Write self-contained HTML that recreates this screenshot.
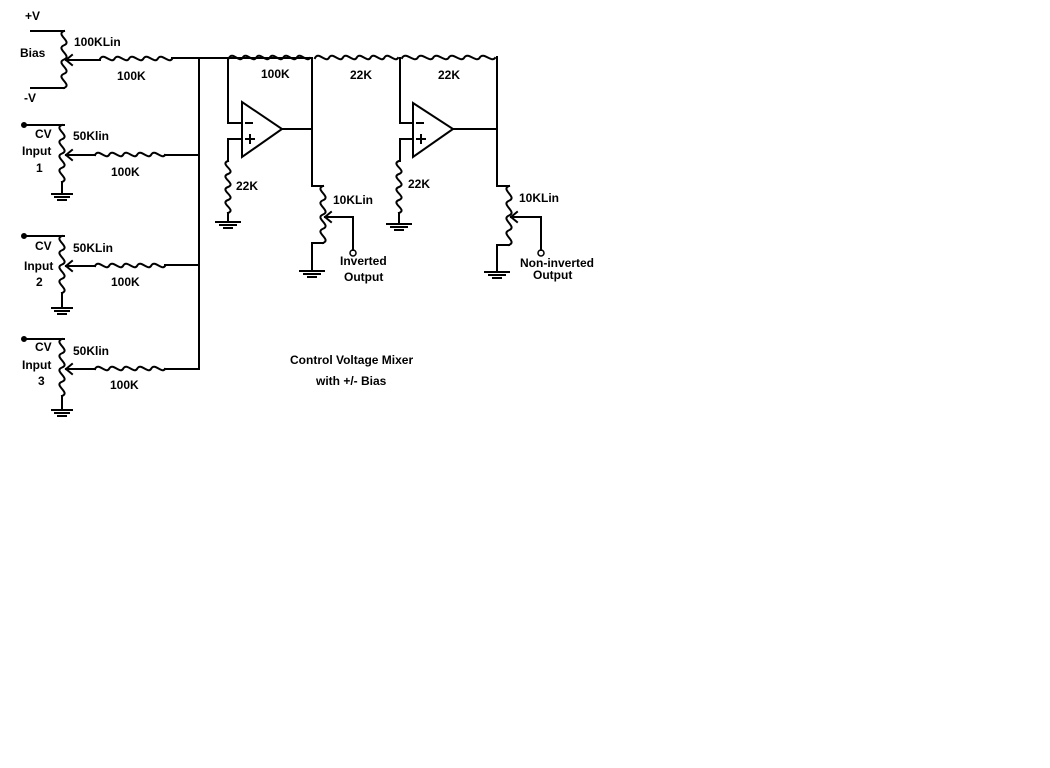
<!DOCTYPE html>
<html><head><meta charset="utf-8"><style>
html,body{margin:0;padding:0;background:#fff;}
svg{display:block;}
text{font-family:"Liberation Sans",sans-serif;font-weight:bold;font-size:12px;fill:#000;}
</style></head><body>
<svg id="s" width="1050" height="768" viewBox="0 0 1050 768" xmlns="http://www.w3.org/2000/svg">
<g id="w" stroke="#000" stroke-width="2" fill="none" stroke-linecap="square">
<polyline points="31,31 64,31"/><polyline points="31,88 64,88"/>
<polyline points="66,60 100,60"/><polyline points="172,58 312,58"/>
<path d="M66,60 L72,55 M66,60 L72,65"/>
<polyline points="199,58 199,369"/>
<polyline points="24,125 64,125"/><path d="M66,155 L72,150 M66,155 L72,160"/>
<polyline points="66,155 95,155"/><polyline points="165,155 199,155"/>
<polyline points="62,182 62,193"/><polyline points="52,194 72,194"/><polyline points="55,197 69,197"/><polyline points="58,200 66,200"/>
<polyline points="24,236 64,236"/><path d="M66,266 L72,261 M66,266 L72,271"/>
<polyline points="66,266 95,266"/><polyline points="165,265 199,265"/>
<polyline points="62,293 62,307"/><polyline points="52,308 72,308"/><polyline points="55,311 69,311"/><polyline points="58,314 66,314"/>
<polyline points="24,339 64,339"/><path d="M66,369 L72,364 M66,369 L72,374"/>
<polyline points="66,369 95,369"/><polyline points="165,369 199,369"/>
<polyline points="62,396 62,409"/><polyline points="52,410 72,410"/><polyline points="55,413 69,413"/><polyline points="58,416 66,416"/>
<polyline points="228,58 228,123 242,123"/>
<polyline points="242,139 228,139 228,161"/>
<polygon points="242,102 242,157 282,129"/>
<path d="M246,123 L252,123 M246,139 L254,139 M250,135 L250,143"/>
<polyline points="282,129 312,129"/>
<polyline points="312,58 312,186 323,186"/>
<polyline points="228,213 228,222"/><polyline points="216,222 240,222"/><polyline points="220,225 236,225"/><polyline points="224,228 232,228"/>
<polyline points="323,243 312,243 312,271"/><polyline points="300,271 324,271"/><polyline points="304,274 320,274"/><polyline points="308,277 316,277"/>
<polyline points="325,217 353,217 353,250"/><path d="M325,217 L331,212 M325,217 L331,222"/>
<circle cx="353" cy="253" r="3" stroke-width="1.5"/>
<polyline points="400,58 400,123 413,123"/>
<polyline points="413,139 400,139 400,161"/>
<polygon points="413,103 413,157 453,129"/>
<path d="M417,123 L423,123 M417,139 L425,139 M421,135 L421,143"/>
<polyline points="453,129 497,129"/>
<polyline points="497,57 497,186 509,186"/>
<polyline points="399,213 399,224"/><polyline points="387,224 411,224"/><polyline points="391,227 407,227"/><polyline points="395,230 403,230"/>
<polyline points="509,245 497,245 497,272"/><polyline points="485,272 509,272"/><polyline points="489,275 505,275"/><polyline points="493,278 501,278"/>
<polyline points="511,217 541,217 541,250"/><path d="M511,217 L517,212 M511,217 L517,222"/>
<circle cx="541" cy="253" r="3" stroke-width="1.5"/>
<circle cx="24" cy="125" r="2" fill="#000"/><circle cx="24" cy="236" r="2" fill="#000"/><circle cx="24" cy="339" r="2" fill="#000"/>
</g>
<text x="25" y="20">+V</text>
<text x="20" y="57">Bias</text>
<text x="74" y="46">100KLin</text>
<text x="24" y="102">-V</text>
<text x="117" y="80">100K</text>
<text x="261" y="78">100K</text>
<text x="350" y="79">22K</text>
<text x="438" y="79">22K</text>
<text x="35" y="138">CV</text><text x="22" y="155">Input</text><text x="36" y="172">1</text>
<text x="73" y="140">50Klin</text><text x="111" y="176">100K</text>
<text x="35" y="250">CV</text><text x="24" y="270">Input</text><text x="36" y="286">2</text>
<text x="73" y="252">50KLin</text><text x="111" y="286">100K</text>
<text x="35" y="351">CV</text><text x="22" y="369">Input</text><text x="38" y="385">3</text>
<text x="73" y="355">50Klin</text><text x="110" y="389">100K</text>
<text x="236" y="190">22K</text>
<text x="408" y="188">22K</text>
<text x="333" y="204">10KLin</text>
<text x="519" y="202">10KLin</text>
<text x="340" y="265">Inverted</text><text x="344" y="281">Output</text>
<text x="520" y="267">Non-inverted</text><text x="533" y="279">Output</text>
<text x="290" y="364">Control Voltage Mixer</text>
<text x="316" y="385">with +/- Bias</text>
</svg>
<script>
var g=document.getElementById('w');
function P(d){var p=document.createElementNS('http://www.w3.org/2000/svg','path');p.setAttribute('d',d);g.appendChild(p);}
function hres(x1,x2,y,n){var s=(x2-x1)/n,d='M'+x1+','+y;for(var i=0;i<n;i++){var a=x1+i*s;d+=' C'+(a+s/4)+','+(y-7)+' '+(a+s*3/4)+','+(y+5)+' '+(a+s)+','+y;}P(d);}
function vres(x,y1,y2,n){var d='M'+x+','+y1,s=(y2-y1)/n;for(var i=0;i<n;i++){var a=y1+i*s;d+=' C'+(x-9)+','+(a+s/4)+' '+(x+9)+','+(a+s*3/4)+' '+x+','+(a+s);}P(d);}
hres(100,172,59,5);hres(95,165,155,5);hres(95,165,266,5);hres(95,165,369,5);
hres(229,310,58,6);hres(315,398,58,6);hres(402,495,58,6);
vres(64,31,88,4);vres(62,125,182,4);vres(62,236,293,4);vres(62,339,396,4);
vres(228,161,213,4);vres(399,161,213,4);vres(323,186,243,4);vres(509,186,245,4);
</script>
</body></html>
